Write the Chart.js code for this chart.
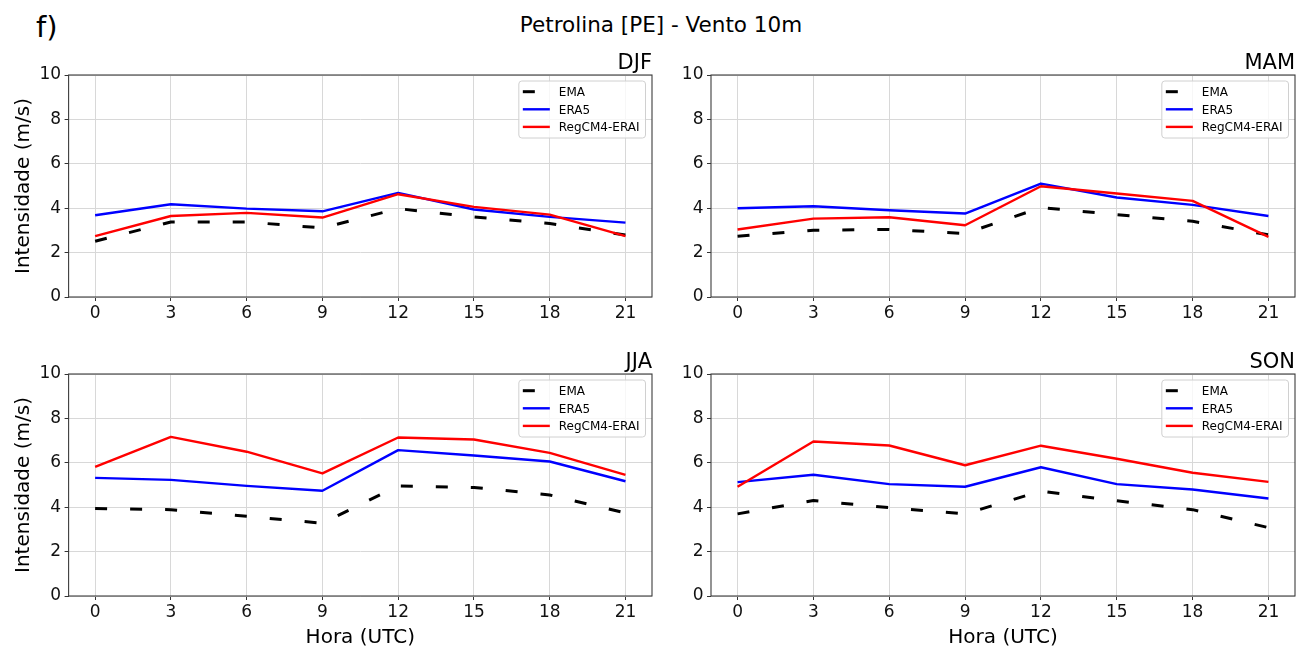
<!DOCTYPE html>
<html>
<head>
<meta charset="utf-8">
<title>Petrolina [PE] - Vento 10m</title>
<script src="https://cdn.jsdelivr.net/npm/chart.js@4.4.1/dist/chart.umd.min.js"></script>
<style>
  html, body { margin: 0; padding: 0; background: #fff; }
  body { position: relative; width: 1308px; height: 651px; overflow: hidden; font-family: "DejaVu Sans", sans-serif; color: #000; }
  canvas { position: absolute; }
  .label { position: absolute; line-height: 1; white-space: nowrap; }
  #suptitle { left: 0; width: 1322px; top: 13.5px; text-align: center; font-size: 21.5px; }
  #tag { left: 36px; top: 13.3px; font-size: 29px; }
</style>
</head>
<body>
<div id="tag" class="label">f)</div>
<div id="suptitle" class="label">Petrolina [PE] - Vento 10m</div>
<script>
// Hours of the day (UTC) and value axis ticks
const hours = [0, 3, 6, 9, 12, 15, 18, 21];
const yTicks = [0, 2, 4, 6, 8, 10];
const seriesNames = ['EMA', 'ERA5', 'RegCM4-ERAI'];

// Mean 10 m wind speed (m/s) per season
const emaDJF   = [2.51, 3.38, 3.38, 3.11, 3.98, 3.61, 3.31, 2.79];
const era5DJF  = [3.68, 4.18, 3.98, 3.86, 4.69, 3.94, 3.61, 3.35];
const regcmDJF = [2.74, 3.65, 3.79, 3.58, 4.63, 4.06, 3.71, 2.74];

const emaMAM   = [2.74, 3.01, 3.04, 2.86, 4.03, 3.71, 3.41, 2.80];
const era5MAM  = [4.00, 4.09, 3.91, 3.76, 5.11, 4.48, 4.15, 3.65];
const regcmMAM = [3.04, 3.53, 3.59, 3.23, 4.99, 4.66, 4.33, 2.71];

const emaJJA   = [3.94, 3.89, 3.59, 3.28, 4.96, 4.89, 4.55, 3.74];
const era5JJA  = [5.32, 5.23, 4.96, 4.74, 6.57, 6.33, 6.06, 5.17];
const regcmJJA = [5.82, 7.17, 6.50, 5.52, 7.14, 7.05, 6.45, 5.46];

const emaSON   = [3.70, 4.30, 3.98, 3.70, 4.72, 4.29, 3.89, 3.08];
const era5SON  = [5.13, 5.46, 5.04, 4.92, 5.80, 5.04, 4.80, 4.39];
const regcmSON = [4.92, 6.96, 6.78, 5.89, 6.77, 6.18, 5.55, 5.14];

const FONT = '"DejaVu Sans", sans-serif';

// Panel placement on the page and the plot rectangle inside each canvas
const panels = [
  { title: 'DJF', ema: emaDJF, era5: era5DJF, regcm: regcmDJF,
    left: 0, top: 0, w: 660, h: 330, area: { l: 68.6, t: 75, r: 652, b: 297 }, yTitle: true, xTitle: false },
  { title: 'MAM', ema: emaMAM, era5: era5MAM, regcm: regcmMAM,
    left: 660, top: 0, w: 648, h: 330, area: { l: 51, t: 75, r: 635, b: 297 }, yTitle: false, xTitle: false },
  { title: 'JJA', ema: emaJJA, era5: era5JJA, regcm: regcmJJA,
    left: 0, top: 330, w: 660, h: 321, area: { l: 68.6, t: 44, r: 652, b: 266 }, yTitle: true, xTitle: true },
  { title: 'SON', ema: emaSON, era5: era5SON, regcm: regcmSON,
    left: 660, top: 330, w: 648, h: 321, area: { l: 51, t: 44, r: 635, b: 266 }, yTitle: false, xTitle: true }
];

// Axes frame, panel title, axis titles and a boxed legend
const panelDecor = {
  id: 'panelDecor',
  afterDraw(chart, args, opts) {
    const ctx = chart.ctx;
    const a = chart.chartArea;
    ctx.save();

    ctx.strokeStyle = '#3c3c3c';
    ctx.lineWidth = 1.1;
    ctx.strokeRect(a.left, a.top, a.right - a.left, a.bottom - a.top);

    ctx.fillStyle = '#000';
    ctx.font = '21px ' + FONT;
    ctx.textAlign = 'right';
    ctx.textBaseline = 'alphabetic';
    ctx.fillText(opts.title, a.right, a.top - 6.5);

    ctx.font = '20px ' + FONT;
    ctx.textAlign = 'center';
    if (opts.yTitle) {
      ctx.save();
      ctx.translate(29, (a.top + a.bottom) / 2);
      ctx.rotate(-Math.PI / 2);
      ctx.fillText('Intensidade (m/s)', 0, 0);
      ctx.restore();
    }
    if (opts.xTitle) {
      ctx.fillText('Hora (UTC)', (a.left + a.right) / 2, a.bottom + 47);
    }

    // legend
    const items = chart.data.datasets;
    ctx.font = '12px ' + FONT;
    const tw = Math.max(...items.map(d => ctx.measureText(d.label).width));
    const boxW = 4 + 27 + 9 + tw + 6;
    const boxH = 57;
    const x0 = a.right - 6.5 - boxW;
    const y0 = a.top + 6;
    ctx.beginPath();
    ctx.roundRect(x0, y0, boxW, boxH, 3);
    ctx.fillStyle = 'rgba(255,255,255,0.8)';
    ctx.fill();
    ctx.strokeStyle = '#d0d0d0';
    ctx.lineWidth = 1;
    ctx.stroke();
    items.forEach((d, k) => {
      const yy = y0 + 10.7 + k * 17.6;
      ctx.save();
      ctx.beginPath();
      ctx.setLineDash(d.borderDash || []);
      ctx.strokeStyle = d.borderColor;
      ctx.lineWidth = d.borderWidth;
      ctx.moveTo(x0 + 4, yy);
      ctx.lineTo(x0 + 31, yy);
      ctx.stroke();
      ctx.restore();
      ctx.fillStyle = '#000';
      ctx.textAlign = 'left';
      ctx.textBaseline = 'alphabetic';
      ctx.fillText(d.label, x0 + 40, yy + 4.4);
    });

    ctx.restore();
  }
};

Chart.defaults.font.family = FONT;
Chart.defaults.font.size = 17;
Chart.defaults.color = '#111';

function pts(vals) {
  return hours.map((h, i) => ({ x: h, y: vals[i] }));
}

panels.forEach(p => {
  const cv = document.createElement('canvas');
  cv.width = p.w;
  cv.height = p.h;
  cv.style.left = p.left + 'px';
  cv.style.top = p.top + 'px';
  cv.style.width = p.w + 'px';
  cv.style.height = p.h + 'px';
  document.body.appendChild(cv);

  const line = { pointRadius: 0, tension: 0, fill: false, borderJoinStyle: 'round', borderCapStyle: 'butt' };

  new Chart(cv, {
    type: 'line',
    data: {
      datasets: [
        Object.assign({ label: seriesNames[0], data: pts(p.ema), borderColor: '#000000', borderWidth: 3, borderDash: [12, 23], order: 2 }, line),
        Object.assign({ label: seriesNames[1], data: pts(p.era5), borderColor: '#0000ff', borderWidth: 2.4, order: 1 }, line),
        Object.assign({ label: seriesNames[2], data: pts(p.regcm), borderColor: '#ff0000', borderWidth: 2.4, order: 0 }, line)
      ]
    },
    options: {
      responsive: false,
      animation: false,
      devicePixelRatio: 1,
      layout: { padding: { top: p.area.t, right: p.w - p.area.r, bottom: 0, left: 0 } },
      plugins: {
        legend: { display: false },
        tooltip: { enabled: false },
        panelDecor: { title: p.title, yTitle: p.yTitle, xTitle: p.xTitle }
      },
      scales: {
        x: {
          type: 'linear',
          min: -1.05,
          max: 22.05,
          afterBuildTicks: s => { s.ticks = hours.map(v => ({ value: v })); },
          afterFit: s => { s.height = p.h - p.area.b; },
          grid: { color: '#d8d8d8', lineWidth: 1, tickColor: '#333', tickLength: 4, drawTicks: true },
          border: { display: false },
          ticks: { padding: 2.5, maxRotation: 0, autoSkip: false, font: { size: 17 } }
        },
        y: {
          type: 'linear',
          min: 0,
          max: 10,
          afterBuildTicks: s => { s.ticks = yTicks.map(v => ({ value: v })); },
          afterFit: s => { s.width = p.area.l; },
          grid: { color: '#d8d8d8', lineWidth: 1, tickColor: '#333', tickLength: 4, drawTicks: true },
          border: { display: false },
          ticks: { padding: 3.5, font: { size: 17 } }
        }
      }
    },
    plugins: [panelDecor]
  });
});
</script>
</body>
</html>
